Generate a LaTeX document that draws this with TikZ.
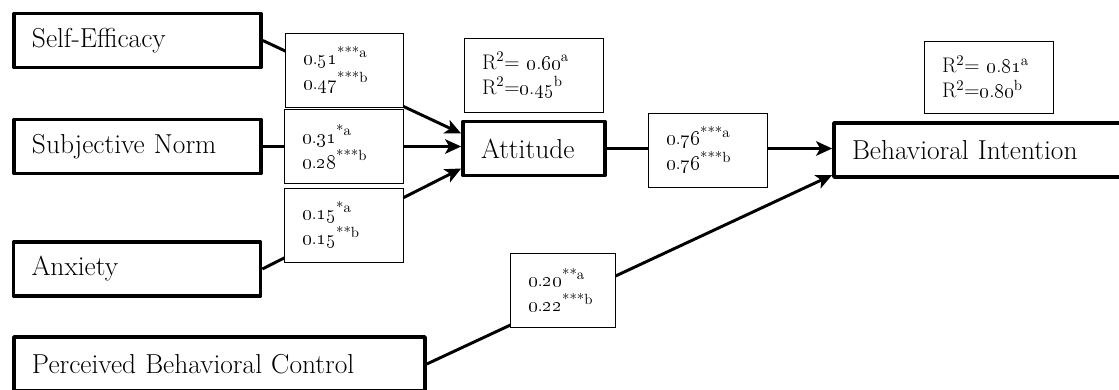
\documentclass[tikz,border=0pt]{standalone}
\usetikzlibrary{arrows.meta}
\newcommand{\onum}[2]{\oldstylenums{#1}.\oldstylenums{#2}}
\tikzset{
  factor/.style={draw, line width=2.6pt, line join=round, fill=white,
    minimum height=1.35cm, inner xsep=0.45cm, align=left,
    font=\fontsize{19.5}{23}\selectfont},
  coefbox/.style={draw, line width=0.6pt, fill=white,
    minimum height=1.85cm, inner xsep=0.45cm, align=left,
    font=\fontsize{15}{17.8}\selectfont},
  link/.style={line width=2.1pt,
    -{Stealth[length=0.4cm,width=0.36cm,inset=0.1cm]}}
}
\begin{document}
\begin{tikzpicture}
    \useasboundingbox (0,0) rectangle (27.975,-9.725);
    % constructs
    \node[factor, text width=5.275cm] (selfeff) at (3.4375,-1.0125) {Self-Efficacy};
    \node[factor, text width=5.275cm] (subnorm) at (3.4375,-3.6625) {Subjective Norm};
    \node[factor, text width=5.275cm] (anxiety) at (3.425,-6.725) {Anxiety};
    \node[factor, text width=9.375cm] (pbc) at (5.4875,-9.1) {Perceived Behavioral Control};
    \node[factor, text width=2.65cm] (attitude) at (13.35,-3.7125) {Attitude};
    \node[factor, text width=6.275cm] (intention) at (24.4375,-3.75) {Behavioral Intention};
    % paths
    \draw[link] (selfeff.east) -- ([yshift=0.375cm]attitude.west);
    \draw[link] (subnorm.east) -- (subnorm.east -| attitude.west);
    \draw[link] (anxiety.east) -- ([yshift=-0.5cm]attitude.west);
    \draw[link] (attitude.east) -- (attitude.east -| intention.west);
    \draw[link] (pbc.east) -- ([yshift=-0.625cm]intention.west);
    % coefficients
    \node[coefbox, text width=2.05cm] (selfcoef) at (8.6,-1.75)
      {\onum{0}{51}\textsuperscript{***a}\\\onum{0}{47}\textsuperscript{***b}};
    \node[coefbox, text width=2.075cm] (normcoef) at (8.5875,-3.6625)
      {\onum{0}{31}\textsuperscript{*a}\\\onum{0}{28}\textsuperscript{***b}};
    \node[coefbox, text width=2.075cm] (anxcoef) at (8.5875,-5.625)
      {\onum{0}{15}\textsuperscript{*a}\\\onum{0}{15}\textsuperscript{**b}};
    \node[coefbox, text width=2.075cm] (attcoef) at (17.6875,-3.75)
      {\onum{0}{76}\textsuperscript{***a}\\\onum{0}{76}\textsuperscript{***b}};
    \node[coefbox, text width=1.725cm] (pbccoef) at (14.0625,-7.25)
      {\onum{0}{20}\textsuperscript{**a}\\\onum{0}{22}\textsuperscript{***b}};
    % explained variance
    \node[coefbox, text width=2.575cm] (attrsq) at (13.3375,-1.875)
      {R\textsuperscript{2}= \onum{0}{60}\textsuperscript{a}\\R\textsuperscript{2}=\onum{0}{45}\textsuperscript{b}};
    \node[coefbox, text width=2.325cm, minimum height=1.8cm] (intrsq) at (24.7125,-1.925)
      {R\textsuperscript{2}= \onum{0}{81}\textsuperscript{a}\\R\textsuperscript{2}=\onum{0}{80}\textsuperscript{b}};
\end{tikzpicture}
\end{document}
